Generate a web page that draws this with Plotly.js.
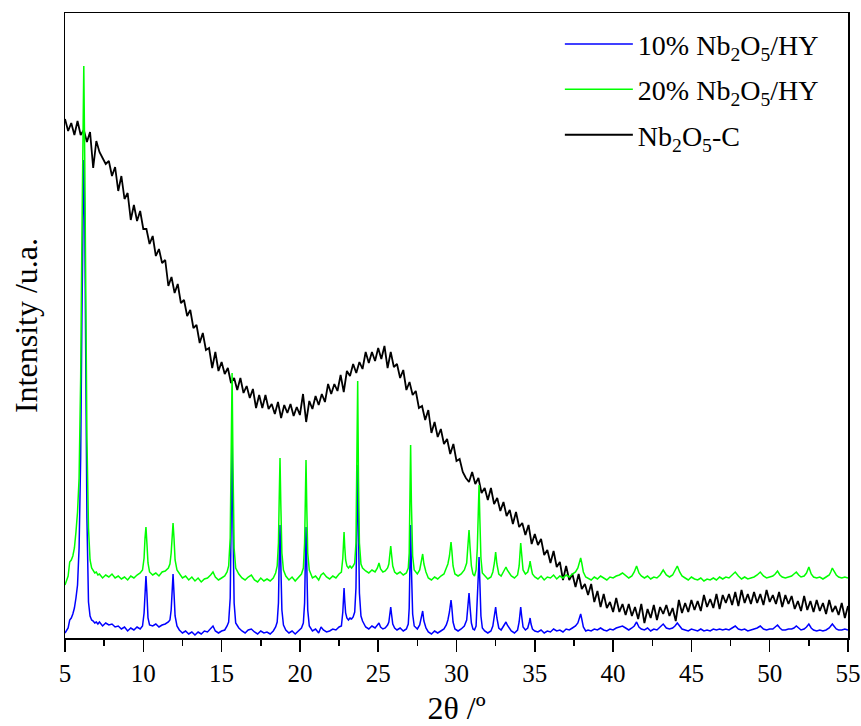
<!DOCTYPE html>
<html>
<head>
<meta charset="utf-8">
<script src="https://cdn.plot.ly/plotly-3.0.1.min.js"></script>
<style>html,body{margin:0;padding:0;background:#fff;}#chart{width:861px;height:726px;}</style>
</head>
<body>
<div id="chart"></div>
<script>
// ---- Data (intensity in arbitrary units) ----
const seriesNames = ['10% Nb<sub>2</sub>O<sub>5</sub>/HY', '20% Nb<sub>2</sub>O<sub>5</sub>/HY', 'Nb<sub>2</sub>O<sub>5</sub>-C'];

// shared 2θ grid for the two supported samples
const twoTheta = [
  5.0,5.1,5.2,5.3,5.4,5.5,5.6,5.7,5.8,5.9,6.0,6.08,6.14,6.2,6.26,6.32,6.4,6.5,6.6,6.7,6.8,6.9,7.0,7.1,
  7.2,7.4,7.6,7.8,8.0,8.2,8.4,8.6,8.8,9.0,9.2,9.4,9.6,9.8,
  9.95,10.05,10.11,10.17,10.23,10.3,10.4,
  10.6,10.8,11.0,11.2,11.4,11.6,
  11.7,11.78,11.84,11.9,11.96,12.03,12.15,
  12.3,12.5,12.7,12.9,13.1,13.3,13.5,13.7,13.9,14.1,14.3,14.45,14.6,14.8,15.0,15.2,15.35,
  15.45,15.55,15.61,15.67,15.73,15.8,15.9,
  16.1,16.3,16.5,16.7,16.9,17.1,17.3,17.5,17.7,17.9,18.1,18.3,18.45,
  18.55,18.63,18.68,18.73,18.78,18.85,18.95,
  19.1,19.3,19.5,19.7,19.9,20.1,
  20.22,20.3,20.35,20.39,20.44,20.5,20.6,
  20.8,21.0,21.2,21.35,21.5,21.7,21.9,22.1,22.3,22.5,
  22.65,22.74,22.78,22.82,22.86,22.92,23.0,23.1,23.2,23.3,23.4,23.5,23.58,23.64,23.69,23.74,23.8,23.9,24.0,
  24.2,24.4,24.6,24.8,24.95,25.05,25.15,25.3,25.45,25.6,
  25.68,25.75,25.8,25.85,25.93,26.05,
  26.2,26.4,26.6,26.8,26.92,
  26.98,27.02,27.07,27.12,27.2,27.3,
  27.5,27.65,27.75,27.84,27.92,28.05,
  28.2,28.4,28.6,28.8,29.0,29.2,29.35,
  29.45,29.55,29.6,29.65,29.7,29.78,29.9,
  30.1,30.3,30.5,
  30.65,30.72,30.8,30.86,30.95,31.05,31.15,31.25,31.33,31.39,31.44,31.49,31.56,31.65,
  31.8,32.0,32.2,32.32,
  32.42,32.5,32.58,32.7,32.85,33.0,33.1,33.16,33.24,33.35,33.5,33.7,33.9,
  34.0,34.05,34.1,34.16,34.25,34.4,34.55,34.65,34.7,34.76,34.85,35.0,
  35.2,35.4,35.6,35.8,36.0,36.2,36.4,36.6,36.8,37.0,37.2,37.4,37.6,
  37.75,37.85,37.93,38.0,38.1,38.25,
  38.4,38.6,38.8,39.0,39.2,39.4,39.6,39.8,40.0,40.2,
  40.4,40.6,40.8,41.0,41.2,41.35,41.5,41.65,41.8,42.0,
  42.2,42.4,42.6,42.8,43.0,43.2,43.4,43.6,43.8,43.95,
  44.1,44.25,44.4,44.6,44.8,45.0,45.2,45.4,45.6,45.8,
  46.0,46.2,46.4,46.6,46.8,47.0,47.2,47.4,47.6,47.8,
  48.0,48.2,48.4,48.6,48.8,49.0,49.2,49.4,49.6,49.8,
  50.0,50.2,50.35,50.5,50.65,50.8,51.0,51.2,51.4,51.55,
  51.7,51.85,52.0,52.2,52.35,52.5,52.65,52.8,53.0,53.2,
  53.4,53.6,53.8,53.9,54.0,54.1,54.25,54.4,54.6,54.8,55.0
];

// 10% Nb2O5/HY
const int10 = [
  5,8,10,18,20,24,30,40,53,90,180,320,430,478,420,280,120,36,22,18,17,15,16,14,
  16,12,15,13,14,11,12,9,11,7,10,8,11,9,
  12,25,50,62,45,20,13,
  12,14,11,13,14,16,
  18,28,48,64,45,22,12,
  8,5,7,4,6,3,6,4,7,6,9,12,7,5,7,8,12,
  16,40,120,193,110,35,15,
  10,7,5,8,9,6,4,7,5,6,4,7,11,
  16,35,80,113,75,28,13,
  8,5,7,4,7,10,
  15,35,80,111,72,28,12,
  7,9,5,11,8,6,7,9,8,11,
  12,26,42,50,38,25,20,18,20,19,21,26,50,120,173,110,45,22,17,
  11,9,12,10,13,15,11,9,10,13,
  16,25,31,24,14,10,
  8,10,7,9,14,
  30,75,113,70,24,12,
  9,13,20,27,17,10,
  6,4,7,5,7,9,13,
  18,26,33,38,31,16,9,
  7,9,12,
  18,33,45,32,15,9,8,12,35,62,81,58,22,10,
  7,5,7,12,
  22,31,20,10,8,12,14,16,13,10,7,5,8,
  16,26,31,22,11,8,10,16,20,14,9,7,
  6,8,5,7,6,9,7,8,6,9,8,10,12,
  15,21,24,19,11,7,
  8,7,9,8,10,8,7,9,8,10,
  11,12,10,8,10,12,16,11,9,8,
  10,7,9,8,11,14,10,9,10,12,
  15,12,9,8,7,9,8,7,9,7,
  8,7,9,8,9,8,9,8,10,12,
  9,8,9,7,8,9,10,12,9,8,
  9,9,11,13,10,8,8,9,9,10,
  12,10,8,9,11,14,10,8,7,8,
  7,8,10,12,14,12,9,8,8,9,8
];

// 20% Nb2O5/HY
const int20 = [
  53,58,62,76,78,82,90,106,126,160,260,400,520,572,480,330,200,110,78,70,67,65,66,63,
  64,60,63,61,64,60,62,59,61,58,62,60,63,65,
  68,80,100,111,95,75,66,
  63,65,62,66,67,70,
  74,85,100,115,100,78,68,
  64,60,62,58,61,57,60,56,59,60,63,66,61,58,60,62,66,
  72,100,180,265,170,90,70,
  64,60,58,61,63,58,56,60,57,59,57,60,65,
  72,95,140,180,135,85,68,
  62,58,61,57,60,64,
  70,95,140,178,130,85,68,
  60,62,58,63,65,61,59,62,60,64,
  66,80,95,106,92,78,72,70,72,70,72,75,95,170,257,160,95,74,70,
  67,65,68,66,70,75,69,66,67,70,
  74,85,92,84,72,66,
  64,66,63,65,70,
  85,140,193,135,82,68,
  64,68,76,84,74,66,
  60,58,61,59,62,64,70,
  74,82,90,96,88,72,64,
  62,64,68,
  75,92,108,92,72,64,62,68,90,125,153,120,80,65,
  62,59,61,66,
  75,86,74,64,62,66,69,71,68,65,62,60,63,
  72,85,95,84,68,64,66,72,77,71,64,61,
  59,62,58,61,60,63,59,62,60,63,61,64,66,
  70,76,80,75,66,61,
  60,58,61,59,62,60,58,61,60,62,
  63,65,62,60,62,66,72,65,62,60,
  62,59,61,60,63,68,63,61,63,67,
  72,66,62,60,58,61,59,58,60,57,
  59,58,60,58,61,59,61,60,63,66,
  62,59,61,59,60,61,63,66,62,60,
  61,62,64,67,63,61,60,61,62,64,
  66,63,61,62,65,71,64,61,60,61,
  59,61,63,66,70,67,63,61,60,61,60
];

// Nb2O5-C, measured from 2θ = 5 in steps of 0.2
const startC = 5;
const stepC = 0.2;
const intC = [
  519,507,515,503,517,503,508,496,506,470,
  497,486,480,474,477,462,471,447,462,439,
  445,418,433,417,427,409,409,394,402,382,
  389,375,378,352,361,345,354,335,338,322,
  328,310,313,295,305,288,290,270,286,267,
  276,264,270,255,260,248,260,245,252,240,
  249,230,243,230,243,229,234,224,236,220,
  233,225,234,222,231,223,244,216,237,229,
  242,233,244,236,254,244,254,247,263,246,
  267,262,274,265,276,269,286,275,286,277,
  290,279,292,270,286,271,274,260,268,248,
  256,243,247,230,232,218,228,205,216,201,
  209,194,199,184,194,177,179,166,160,156,
  166,154,160,145,150,138,150,134,140,127,
  136,122,128,114,126,111,115,103,113,94,
  104,93,99,83,88,75,87,71,76,58,
  72,58,64,51,64,49,54,43,54,36,
  47,31,44,30,36,26,40,26,34,23,
  34,22,31,19,34,15,29,20,33,18,
  31,24,33,22,30,17,38,25,35,26,
  38,28,37,27,43,31,39,30,44,29,
  43,35,44,33,46,32,48,35,44,34,
  46,35,44,33,48,36,43,34,46,31,
  43,34,42,29,37,27,42,28,37,26,
  38,27,35,24,38,26,32,23,35,20,
  32
];

const colors = ['#0000ff', '#00ff00', '#000000'];

// ---- Traces ----
const trBlue = {
  type: 'scatter', mode: 'lines', x: twoTheta, y: int10, name: seriesNames[0],
  line: {color: colors[0], width: 1.5}, legendrank: 1, legendgroup: 'a'
};
const trGreen = {
  type: 'scatter', mode: 'lines', x: twoTheta, y: int20, name: seriesNames[1],
  line: {color: colors[1], width: 1.5}, legendrank: 2, legendgroup: 'b'
};
const trBlack = {
  type: 'scatter', mode: 'lines', x0: startC, dx: stepC, y: intC, name: seriesNames[2],
  line: {color: colors[2], width: 1.8}, legendrank: 3, legendgroup: 'c'
};

const serif = 'Liberation Serif, Times New Roman, serif';

const layout = {
  width: 861, height: 726,
  margin: {l: 65, r: 13, t: 13, b: 88},
  paper_bgcolor: '#ffffff', plot_bgcolor: '#ffffff',
  font: {family: serif, color: '#000000', size: 25},
  showlegend: true,
  legend: {
    x: 0.632, y: 0.99, xanchor: 'left', yanchor: 'top',
    bgcolor: 'rgba(0,0,0,0)', borderwidth: 0,
    font: {family: serif, size: 28, color: '#000000'},
    itemwidth: 68, traceorder: 'grouped', tracegroupgap: 6
  },
  xaxis: {
    range: [5, 55], tick0: 5, dtick: 5, autorange: false,
    ticks: 'outside', ticklen: 12, tickwidth: 1.5, tickcolor: '#000',
    minor: {ticks: 'outside', ticklen: 6, tickwidth: 1.5, tickcolor: '#000', dtick: 2.5, tick0: 5, showgrid: false},
    showline: true, linecolor: '#000', linewidth: 1.5, mirror: true,
    showgrid: false, zeroline: false,
    tickfont: {family: serif, size: 25, color: '#000'},
    title: {text: '2θ /º', font: {family: serif, size: 32, color: '#000'}, standoff: 21},
    automargin: false
  },
  yaxis: {
    range: [0, 625], autorange: false,
    showticklabels: false, ticks: '',
    showline: true, linecolor: '#000', linewidth: 1.5, mirror: true,
    showgrid: false, zeroline: false,
    title: {text: 'Intensity /u.a.', font: {family: serif, size: 32, color: '#000'}, standoff: 16},
    automargin: false
  }
};

Plotly.newPlot('chart', [trBlue, trBlack, trGreen], layout, {displayModeBar: false, staticPlot: true});
</script>
</body>
</html>
